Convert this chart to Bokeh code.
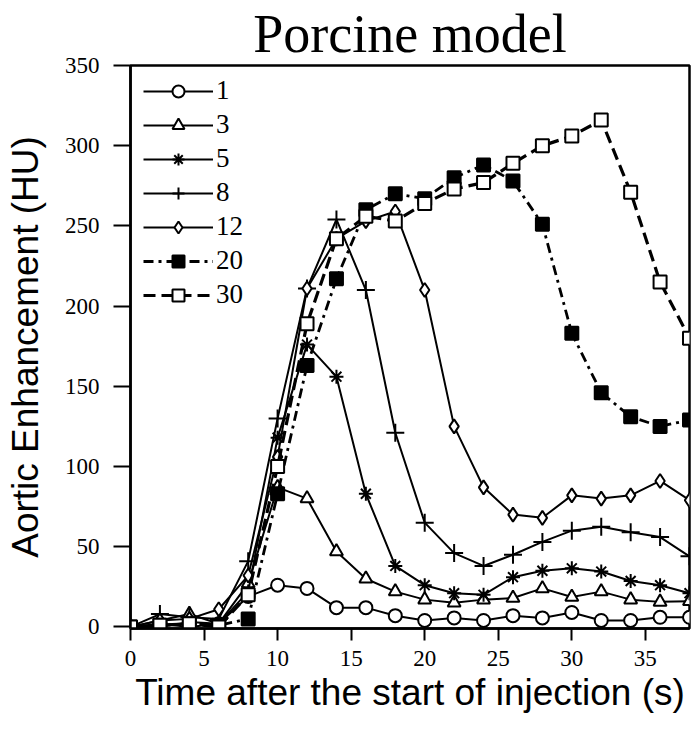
from bokeh.plotting import figure
from bokeh.models import Range1d, FixedTicker, Legend, LegendItem, Title
from bokeh.embed import file_html
from bokeh.resources import INLINE

time_s = [0, 2, 4, 6, 8, 10, 12, 14, 16, 18, 20, 22, 24, 26, 28, 30, 32, 34, 36, 38]
s1 = [0, 2, 0, 2, 19, 26, 24, 12, 12, 7, 4, 5.6, 4, 7, 5.6, 9, 4, 4, 6, 6]
s3 = [0, 4, 8, 2, 27, 87, 80, 47, 30, 22, 17, 15, 17, 18, 24, 18.6, 22, 17, 15.6, 16]
s5 = [0, 0, 3, 2, 22, 118, 176, 156, 83, 38, 26, 21, 20, 31, 35, 36.5, 34.5, 28.6, 26, 21]
s8 = [0, 8, 6, 5, 41, 130, 211, 254, 210, 121, 65, 46, 38, 45, 53, 60, 62.5, 59, 56, 44]
s12 = [0, 4, 5, 11, 32, 106, 211, 242, 253, 259, 210, 125, 87, 70, 68, 82, 80, 82, 91, 79]
s20 = [0, 1, 2, 1, 5, 83, 163, 217, 260, 270, 267, 280, 288, 278, 251, 183, 146, 131, 125, 129]
s30 = [0, 1, 2, 0, 20, 100, 189, 242, 256, 253, 264, 273, 277, 289, 300, 306, 316, 271, 215, 180]

labels = ["1", "3", "5", "8", "12", "20", "30"]
series = [s1, s3, s5, s8, s12, s20, s30]
markers = ["circle", "triangle", "asterisk", "cross", "diamond", "square", "square"]
fills = ["white", "white", "white", "white", "white", "black", "white"]
sizes = [13, 13, 14, 18, 14, 13, 13]
dashes = ["solid", "solid", "solid", "solid", "solid", "10 5 3 5", "12 6"]
widths = [2, 2, 2, 2, 2, 2.8, 3.2]

x_ticks = [0, 5, 10, 15, 20, 25, 30, 35]
y_ticks = [0, 50, 100, 150, 200, 250, 300, 350]

SERIF = "Liberation Serif"
SANS = "Liberation Sans"

p = figure(width=691, height=715, output_backend="svg", toolbar_location=None,
           x_range=Range1d(0, 38), y_range=Range1d(-1, 350),
           min_border_left=130, min_border_right=2, min_border_top=0, min_border_bottom=6)

p.title = Title(text="Porcine model", text_font=SERIF, text_font_size="54px",
                text_color="black", text_font_style="normal", align="center",
                offset=-13, standoff=3)

p.xgrid.visible = False
p.ygrid.visible = False
p.outline_line_color = "black"
p.outline_line_width = 2.5
p.background_fill_color = "white"
p.border_fill_color = "white"

for ax, ticks in ((p.xaxis[0], x_ticks), (p.yaxis[0], y_ticks)):
    ax.ticker = FixedTicker(ticks=ticks)
    ax.minor_tick_line_color = None
    ax.major_tick_in = 0
    ax.axis_line_width = 2.5
    ax.major_tick_line_width = 2
    ax.major_label_text_font = SERIF
    ax.major_label_text_font_size = "23px"
    ax.major_label_text_color = "black"
    ax.axis_label_text_font = SANS
    ax.axis_label_text_font_size = "37px"
    ax.axis_label_text_font_style = "normal"
    ax.axis_label_text_color = "black"

p.xaxis.major_tick_out = 12
p.yaxis.major_tick_out = 17
p.xaxis.major_label_standoff = 10
p.yaxis.major_label_standoff = 14
p.xaxis.axis_label = "Time after the start of injection (s)"
p.yaxis.axis_label = "Aortic Enhancement (HU)"
p.xaxis.axis_label_standoff = 3
p.yaxis.axis_label_standoff = 16

items = []
for lab, ys, mk, fc, sz, dsh, lw in zip(labels, series, markers, fills, sizes, dashes, widths):
    lr = p.line(time_s, ys, line_color="black", line_width=lw, line_dash=dsh)
    sr = p.scatter(time_s, ys, marker=mk, size=sz, fill_color=fc, line_color="black", line_width=2)
    items.append(LegendItem(label=lab, renderers=[lr, sr]))

legend = Legend(items=items, location=(13, 318), glyph_width=70, glyph_height=30,
                spacing=3, padding=0, margin=0, label_standoff=3,
                label_text_font=SERIF, label_text_font_size="27px", label_text_color="black",
                background_fill_alpha=0, border_line_alpha=0)
p.add_layout(legend, "center")

open("out.html", "w").write(file_html(p, INLINE))
